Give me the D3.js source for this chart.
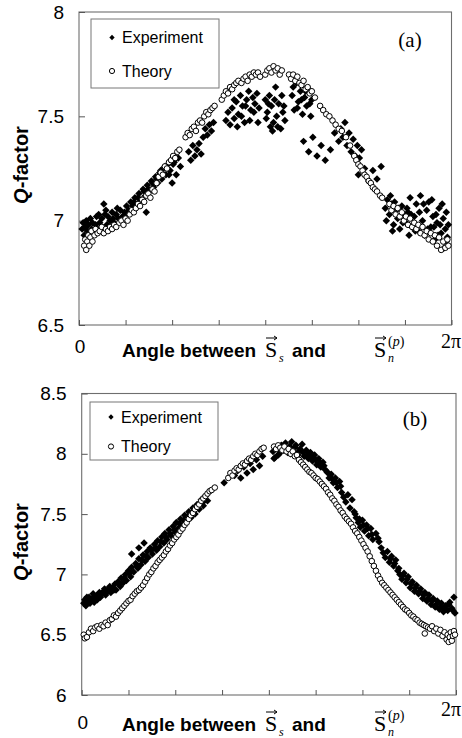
<html>
<head>
<script src="https://cdn.jsdelivr.net/npm/d3@7"></script>
<style>
  body { margin: 0; background: #fff; }
</style>
</head>
<body>
<div id="main"></div>
<script>
// ---- data (angle in degrees 0..360, Q-factor) ----
var seriesNames = ['Experiment', 'Theory'];
var xEndLabels = ['0', '2\u03c0'];
var yTicksA = [6.5, 7, 7.5, 8];
var yTicksB = [6, 6.5, 7, 7.5, 8, 8.5];

var theoA = [
  [5,6.88],[6,6.91],[7,6.86],[8,6.90],[9,6.93],[10,6.88],[11,6.92],[12,6.95],[13,6.90],[15,6.93],
  [16,6.96],[18,6.94],[20,6.95],[22,6.97],[24,6.94],[26,6.96],[28,6.95],[30,6.97],[32,6.96],[34,6.98],
  [36,6.97],[39,6.99],[41,7.00],[43,6.98],[45,7.01],[47,7.00],[49,7.03],[51,7.05],[53,7.04],[55,7.06],
  [57,7.08],[59,7.07],[61,7.10],[63,7.09],[65,7.12],[67,7.13],[69,7.11],[71,7.15],[73,7.14],[75,7.18],
  [77,7.21],[79,7.23],[81,7.22],[83,7.26],[85,7.25],[87,7.28],[89,7.29],[91,7.31],[93,7.30],[95,7.33],
  [97,7.34],[103,7.40],[105,7.42],[107,7.41],[109,7.44],[111,7.45],[113,7.43],[115,7.47],[117,7.48],[119,7.47],
  [121,7.50],[123,7.52],[125,7.51],[127,7.53],[129,7.54],[131,7.55],[138,7.58],[140,7.60],[142,7.62],[144,7.61],
  [146,7.64],[148,7.63],[150,7.65],[152,7.66],[154,7.67],[157,7.66],[159,7.68],[161,7.69],[163,7.67],[165,7.70],
  [167,7.69],[169,7.71],[171,7.70],[173,7.71],[175,7.69],[180,7.70],[182,7.72],[184,7.73],[186,7.71],[188,7.74],
  [190,7.72],[192,7.73],[194,7.70],[196,7.72],[203,7.70],[205,7.68],[207,7.70],[209,7.67],[211,7.69],[213,7.66],
  [215,7.65],[217,7.67],[219,7.63],[221,7.64],[223,7.61],[225,7.62],[228,7.59],[233,7.55],[236,7.53],[239,7.51],
  [242,7.50],[245,7.48],[248,7.46],[251,7.44],[254,7.43],[258,7.40],[262,7.36],[266,7.31],[268,7.29],[270,7.27],
  [272,7.26],[274,7.24],[276,7.22],[278,7.21],[280,7.19],[282,7.18],[284,7.16],[286,7.15],[288,7.14],[291,7.12],
  [293,7.11],[300,7.08],[302,7.05],[304,7.07],[306,7.03],[308,7.06],[310,7.02],[312,7.04],[314,7.00],[316,7.02],
  [318,6.98],[320,7.01],[322,6.97],[324,6.99],[326,6.96],[328,6.98],[330,6.94],[332,6.97],[334,6.93],[336,6.95],
  [338,6.91],[340,6.94],[342,6.90],[344,6.93],[346,6.88],[348,6.92],[350,6.86],[352,6.90],[354,6.87],[356,6.91],[357,6.88]
];

var expA = [
  [3,6.96],[4,6.99],[5,6.93],[6,6.97],[7,7.00],[8,6.95],[9,6.98],[10,6.92],[11,7.01],[12,6.96],
  [13,6.99],[14,6.94],[15,6.95],[16,6.98],[17,7.02],[18,6.96],[19,7.03],[20,6.99],[22,7.01],[24,7.08],
  [25,7.03],[26,7.05],[27,6.98],[28,7.02],[30,7.00],[32,7.04],[33,7.01],[34,6.99],[36,7.03],[37,7.06],
  [38,7.01],[40,7.05],[42,7.02],[44,7.04],[45,7.02],[46,7.07],[48,7.05],[50,7.09],[52,7.07],[53,7.09],
  [54,7.11],[56,7.08],[57,7.11],[58,7.13],[60,7.10],[62,7.15],[63,7.14],[64,7.12],[65,7.04],[66,7.17],
  [67,7.15],[68,7.14],[70,7.19],[71,7.18],[72,7.16],[74,7.21],[75,7.20],[76,7.18],[78,7.23],[79,7.24],
  [80,7.20],[82,7.25],[83,7.26],[84,7.22],[86,7.27],[87,7.22],[88,7.24],[90,7.18],[91,7.27],[92,7.28],
  [94,7.22],[96,7.30],[98,7.26],[106,7.33],[108,7.29],[110,7.36],[112,7.31],[114,7.34],[116,7.37],[118,7.32],
  [120,7.40],[122,7.44],[124,7.41],[126,7.46],[128,7.43],[130,7.47],[142,7.48],[144,7.52],[146,7.46],[148,7.54],
  [150,7.49],[150,7.58],[152,7.57],[153,7.45],[154,7.51],[156,7.60],[157,7.50],[158,7.55],[160,7.47],[161,7.55],
  [162,7.58],[164,7.62],[165,7.48],[166,7.53],[168,7.59],[169,7.52],[170,7.56],[172,7.61],[173,7.47],[174,7.54],
  [180,7.58],[181,7.49],[182,7.52],[183,7.56],[184,7.60],[185,7.45],[186,7.55],[187,7.43],[188,7.47],[189,7.58],
  [190,7.64],[191,7.50],[192,7.45],[193,7.56],[195,7.44],[196,7.60],[197,7.52],[198,7.55],[199,7.48],[206,7.60],
  [207,7.64],[208,7.53],[210,7.66],[211,7.54],[212,7.57],[214,7.62],[215,7.58],[216,7.51],[218,7.59],[219,7.62],
  [220,7.55],[222,7.63],[223,7.56],[224,7.50],[225,7.58],
  [217,7.38],[222,7.33],[226,7.40],[230,7.31],[234,7.36],[238,7.29],[243,7.34],[247,7.42],[251,7.38],
  [253,7.44],[255,7.40],[257,7.47],[259,7.36],[261,7.42],[263,7.33],[265,7.39],[267,7.31],[269,7.36],[271,7.30],
  [273,7.34],[270,7.22],[276,7.25],[280,7.19],[284,7.24],[288,7.20],[292,7.26],
  [296,7.06],[297,7.00],[298,7.10],[300,7.03],[301,7.12],[302,7.08],[303,6.95],[304,6.98],[305,7.09],[306,7.05],
  [308,7.01],[309,7.06],[310,6.96],[312,7.07],[313,6.99],[314,7.03],[316,6.99],[317,7.06],[318,7.04],[319,6.93],
  [320,7.11],[321,7.03],[322,6.97],[324,7.02],[325,6.95],[326,7.08],[328,6.95],[329,7.04],[330,7.12],[332,7.00],
  [333,7.08],[334,6.93],[336,7.05],[337,6.96],[338,7.09],[340,6.97],[341,7.10],[342,7.02],[343,6.97],[344,6.91],
  [345,7.03],[346,6.99],[347,6.93],[348,7.06],[349,6.98],[350,6.94],[351,7.08],[352,7.01],[353,6.87],[354,6.96],
  [355,7.04],[355,6.90],[356,6.92],[357,6.98]
];

var theoB = [
  [2,6.50],[3,6.47],[5,6.48],[7,6.52],[9,6.55],[11,6.53],[13,6.56],[15,6.57],[17,6.55],[19,6.58],
  [21,6.57],[23,6.60],[25,6.58],[27,6.62],[29,6.63],[31,6.66],[33,6.65],[35,6.68],[37,6.70],[39,6.72],
  [41,6.74],[43,6.76],[45,6.78],[47,6.79],[49,6.82],[51,6.84],[53,6.86],[55,6.87],[57,6.89],[59,6.91],
  [61,6.94],[63,6.97],[65,7.00],[67,7.02],[69,7.05],[71,7.07],[73,7.10],[75,7.12],[77,7.14],[79,7.16],
  [81,7.19],[83,7.21],[85,7.24],[87,7.26],[89,7.29],[91,7.31],[93,7.33],[95,7.36],[97,7.38],[99,7.41],
  [101,7.43],[103,7.46],[105,7.49],[107,7.51],[109,7.54],[111,7.56],[113,7.58],[115,7.61],[117,7.63],[119,7.65],
  [121,7.67],[123,7.69],[125,7.70],[128,7.72],[141,7.80],[143,7.84],[145,7.82],[147,7.86],[149,7.88],[151,7.87],
  [153,7.90],[155,7.92],[157,7.91],[159,7.94],[161,7.96],[163,7.95],[165,7.98],[167,8.00],[169,7.99],[171,8.02],
  [173,8.04],[175,8.05],[185,8.06],[187,8.04],[189,8.07],[191,8.05],[193,8.03],[195,8.06],[197,8.02],[199,8.04],
  [201,8.00],[203,8.02],[205,7.98],[207,7.99],[209,7.95],[211,7.93],[213,7.91],[215,7.89],[217,7.87],[219,7.85],
  [221,7.84],[223,7.82],[225,7.80],[227,7.79],[229,7.77],[231,7.75],[233,7.73],[235,7.71],[237,7.68],[239,7.66],
  [241,7.63],[243,7.61],[245,7.58],[247,7.56],[249,7.53],[251,7.51],[253,7.48],[255,7.46],[257,7.44],[259,7.42],
  [261,7.39],[263,7.36],[265,7.34],[267,7.31],[269,7.28],[271,7.25],[273,7.22],[275,7.19],[277,7.15],[279,7.11],
  [281,7.07],[283,7.03],[285,6.99],[287,6.96],[289,6.93],[291,6.91],[293,6.89],[295,6.87],[297,6.85],[299,6.83],
  [301,6.81],[303,6.79],[305,6.77],[307,6.75],[309,6.73],[311,6.71],[313,6.70],[315,6.68],[317,6.66],[319,6.65],
  [321,6.63],[323,6.62],[325,6.60],[327,6.59],[329,6.58],[330,6.51],[331,6.57],[333,6.56],[335,6.55],[337,6.57],
  [339,6.53],[341,6.55],[343,6.51],[345,6.54],[347,6.49],[349,6.52],[351,6.46],[352,6.50],[353,6.44],[354,6.48],
  [355,6.52],[356,6.45],[357,6.49],[358,6.53],[359,6.50]
];

var expB = [
  [2,6.76],[3,6.79],[4,6.74],[5,6.81],[6,6.78],[7,6.81],[8,6.76],[9,6.78],[10,6.80],[11,6.84],
  [12,6.77],[13,6.80],[14,6.82],[15,6.79],[16,6.83],[17,6.85],[18,6.81],[20,6.84],[21,6.86],[22,6.88],
  [23,6.83],[25,6.86],[26,6.88],[27,6.90],[28,6.85],[30,6.89],[31,6.87],[32,6.92],[33,6.87],[35,6.94],
  [36,6.92],[37,6.90],[38,6.97],[40,6.93],[41,6.97],[42,7.00],[43,6.95],[45,7.03],[46,7.01],[47,6.98],
  [48,7.06],[48,7.17],[50,7.02],[52,7.09],[53,7.07],[54,7.05],[55,7.13],[55,7.22],[57,7.08],[58,7.12],
  [59,7.16],[60,7.26],[61,7.11],[62,7.15],[63,7.19],[64,7.14],[66,7.22],[67,7.20],[68,7.17],[70,7.25],
  [71,7.22],[72,7.20],[73,7.28],[75,7.23],[76,7.27],[77,7.31],[79,7.26],[80,7.34],[81,7.31],[82,7.29],
  [84,7.37],[85,7.34],[86,7.32],[88,7.40],[89,7.37],[90,7.35],[91,7.43],[93,7.38],[94,7.42],[95,7.46],
  [97,7.41],[98,7.45],[99,7.49],[101,7.44],[102,7.48],[103,7.52],[105,7.47],[106,7.51],[107,7.55],[109,7.50],
  [110,7.55],[111,7.58],[113,7.54],[114,7.58],[115,7.62],[117,7.57],[118,7.61],[119,7.65],[121,7.61],[137,7.76],
  [147,7.82],[150,7.86],[153,7.80],[156,7.89],[159,7.84],[162,7.92],[165,7.87],[168,7.95],[171,7.90],[174,7.98],
  [184,8.02],[185,7.96],[186,7.97],[188,8.05],[189,7.99],[190,8.00],[192,8.07],[193,8.05],[194,8.03],[196,8.09],
  [197,8.04],[198,8.01],[200,8.06],[201,8.00],[202,8.10],[204,8.02],[205,8.05],[206,8.07],[208,7.99],[209,8.02],
  [210,8.04],[212,8.08],[213,8.01],[214,7.98],[216,8.03],[217,7.99],[218,7.96],[220,8.01],[221,7.97],[222,7.94],
  [224,7.99],[225,7.95],[226,7.91],[228,7.96],[229,7.93],[230,7.89],[232,7.93],[233,7.90],[234,7.87],[236,7.85],
  [237,7.84],[238,7.80],[240,7.83],[241,7.79],[242,7.76],[244,7.80],[245,7.76],[246,7.72],[248,7.77],[249,7.73],
  [250,7.68],[252,7.64],[254,7.60],[256,7.66],[258,7.55],[260,7.62],[262,7.52],[263,7.50],[264,7.47],[266,7.43],
  [267,7.46],[268,7.39],[270,7.45],[271,7.41],[272,7.36],[274,7.41],[275,7.38],[276,7.32],[278,7.38],[279,7.33],
  [280,7.29],[283,7.34],[285,7.30],[286,7.27],[288,7.22],[290,7.18],[292,7.14],[294,7.19],[296,7.10],[297,7.13],
  [298,7.15],[300,7.07],[301,7.09],[302,7.12],[304,7.03],[305,7.05],[306,7.00],[308,6.96],[309,6.99],[310,7.01],
  [312,6.93],[313,6.96],[314,6.98],[316,6.89],[317,6.92],[318,6.94],[320,6.86],[321,6.89],[322,6.91],[324,6.84],
  [325,6.86],[326,6.88],[328,6.80],[329,6.83],[330,6.85],[332,6.78],[333,6.80],[334,6.83],[336,6.75],[337,6.78],
  [338,6.80],[340,6.73],[341,6.75],[342,6.78],[344,6.71],[345,6.73],[346,6.76],[348,6.69],[349,6.72],[350,6.74],
  [352,6.70],[353,6.75],[354,6.77],[356,6.72],[357,6.70],[358,6.81],[359,6.68]
];

// ---- layout ----
var W = 462, H = 738;
var sans = 'Arial, "Liberation Sans", sans-serif';
var serif = '"Times New Roman", "Liberation Serif", serif';

var svg = d3.select('#main').append('svg')
  .attr('width', W)
  .attr('height', H);

// Excel-style filled diamond
var diamond = {
  draw: function(ctx, size) {
    var r = Math.sqrt(size / 2);
    ctx.moveTo(0, -r); ctx.lineTo(r, 0); ctx.lineTo(0, r); ctx.lineTo(-r, 0); ctx.closePath();
  }
};

function drawPanel(p) {
  var x = d3.scaleLinear().domain([0, 360]).range([p.left, p.right]);
  var y = d3.scaleLinear().domain(p.yDomain).range([p.bottom, p.top]);
  var g = svg.append('g');

  // plot frame
  g.append('rect')
    .attr('x', p.left).attr('y', p.top)
    .attr('width', p.right - p.left).attr('height', p.bottom - p.top)
    .attr('fill', 'none').attr('stroke', '#6e6e6e').attr('stroke-width', 1.1);

  // y axis, ticks pointing inward
  g.append('g')
    .attr('transform', 'translate(' + p.left + ',0)')
    .call(d3.axisLeft(y).tickValues(p.yTicks).tickSize(-6).tickPadding(15).tickFormat(function(d) { return String(d); }))
    .call(function(a) {
      a.select('.domain').remove();
      a.selectAll('line').attr('stroke', '#555');
      a.selectAll('text').attr('font-size', 19).attr('font-family', sans).attr('fill', '#000');
    });

  // x axis, eight divisions of 2pi, no numbers in between
  g.append('g')
    .attr('transform', 'translate(0,' + p.bottom + ')')
    .call(d3.axisBottom(x).tickValues(d3.range(0, 361, 45)).tickSize(-5).tickFormat(''))
    .call(function(a) {
      a.select('.domain').remove();
      a.selectAll('line').attr('stroke', '#555');
    });

  // end labels 0 and 2pi
  g.append('text').attr('x', x(0) + 1).attr('y', p.zeroY)
    .attr('text-anchor', 'middle').attr('font-family', sans).attr('font-size', 19)
    .text(xEndLabels[0]);
  g.append('text').attr('x', W - 1).attr('y', p.twoPiY)
    .attr('text-anchor', 'end').attr('font-family', serif).attr('font-size', 20)
    .text(xEndLabels[1]);

  // experiment first, theory circles on top
  g.selectAll('path.exp').data(p.exp).enter().append('path')
    .attr('class', 'exp')
    .attr('transform', function(d) { return 'translate(' + x(d[0]) + ',' + y(d[1]) + ')'; })
    .attr('d', d3.symbol().type(diamond).size(28))
    .attr('fill', '#000');

  g.selectAll('circle.theo').data(p.theo).enter().append('circle')
    .attr('class', 'theo')
    .attr('cx', function(d) { return x(d[0]); })
    .attr('cy', function(d) { return y(d[1]); })
    .attr('r', 2.8)
    .attr('fill', '#fff').attr('stroke', '#000').attr('stroke-width', 1);

  // legend
  var L = p.legend;
  g.append('rect').attr('x', L.x).attr('y', L.y).attr('width', L.w).attr('height', L.h)
    .attr('fill', '#fff').attr('stroke', '#777').attr('stroke-width', 1);
  L.rows.forEach(function(r, i) {
    if (i === 0) {
      g.append('path').attr('transform', 'translate(' + (L.x + 21) + ',' + r.my + ')')
        .attr('d', d3.symbol().type(diamond).size(14)).attr('fill', '#000');
    } else {
      g.append('circle').attr('cx', L.x + 21).attr('cy', r.my).attr('r', 2.6)
        .attr('fill', '#fff').attr('stroke', '#000').attr('stroke-width', 1);
    }
    g.append('text').attr('x', L.x + 31).attr('y', r.ty)
      .attr('font-family', sans).attr('font-size', 16)
      .text(seriesNames[i]);
  });

  // panel letter
  g.append('text').attr('x', p.tagX).attr('y', p.tagY)
    .attr('text-anchor', 'middle').attr('font-family', serif).attr('font-size', 21)
    .text(p.tag);

  // y title
  var yt = g.append('text')
    .attr('transform', 'translate(28,' + p.titleY + ') rotate(-90)')
    .attr('text-anchor', 'middle').attr('font-family', sans)
    .attr('font-size', 20).attr('font-weight', 'bold');
  yt.append('tspan').attr('font-style', 'italic').text('Q');
  yt.append('tspan').text('-factor');

  // x title: Angle between S_s and S_n^(p)
  var b = p.xlabY;
  var xt = g.append('g');
  xt.append('text').attr('x', 122).attr('y', b)
    .attr('font-family', sans).attr('font-size', 19).attr('font-weight', 'bold')
    .text('Angle between');
  xt.append('text').attr('x', 292).attr('y', b)
    .attr('font-family', sans).attr('font-size', 19).attr('font-weight', 'bold')
    .text('and');
  [[265, 's', null], [374, 'n', '(p)']].forEach(function(v) {
    xt.append('text').attr('x', v[0]).attr('y', b)
      .attr('font-family', serif).attr('font-size', 22).text('S');
    var ay = b - 19, x0 = v[0] + 1, x1 = v[0] + 12;
    xt.append('path')
      .attr('d', 'M' + x0 + ',' + ay + 'H' + x1 + 'M' + (x1 - 3) + ',' + (ay - 2) + 'L' + x1 + ',' + ay + 'L' + (x1 - 3) + ',' + (ay + 2))
      .attr('fill', 'none').attr('stroke', '#000').attr('stroke-width', 1);
    xt.append('text').attr('x', v[0] + 14).attr('y', b + 5)
      .attr('font-family', serif).attr('font-size', 12).attr('font-style', 'italic')
      .text(v[1]);
    if (v[2]) {
      var sup = xt.append('text').attr('x', v[0] + 14).attr('y', b - 11)
        .attr('font-family', serif).attr('font-size', 14);
      sup.append('tspan').text('(');
      sup.append('tspan').attr('font-style', 'italic').text('p');
      sup.append('tspan').text(')');
    }
  });
}

drawPanel({
  left: 79, right: 451.5, top: 12, bottom: 325,
  yDomain: [6.5, 8], yTicks: yTicksA,
  exp: expA, theo: theoA,
  zeroY: 353, twoPiY: 348, xlabY: 357, titleY: 165,
  tag: '(a)', tagX: 410, tagY: 47,
  legend: { x: 91, y: 19, w: 128, h: 69, rows: [{ my: 37.5, ty: 43 }, { my: 71, ty: 77 }] }
});

drawPanel({
  left: 81.7, right: 456, top: 393.5, bottom: 695,
  yDomain: [6, 8.5], yTicks: yTicksB,
  exp: expB, theo: theoB,
  zeroY: 729, twoPiY: 716, xlabY: 731, titleY: 542,
  tag: '(b)', tagX: 415, tagY: 426,
  legend: { x: 90, y: 402, w: 128, h: 58, rows: [{ my: 417, ty: 423 }, { my: 446.5, ty: 452 }] }
});
</script>
</body>
</html>
